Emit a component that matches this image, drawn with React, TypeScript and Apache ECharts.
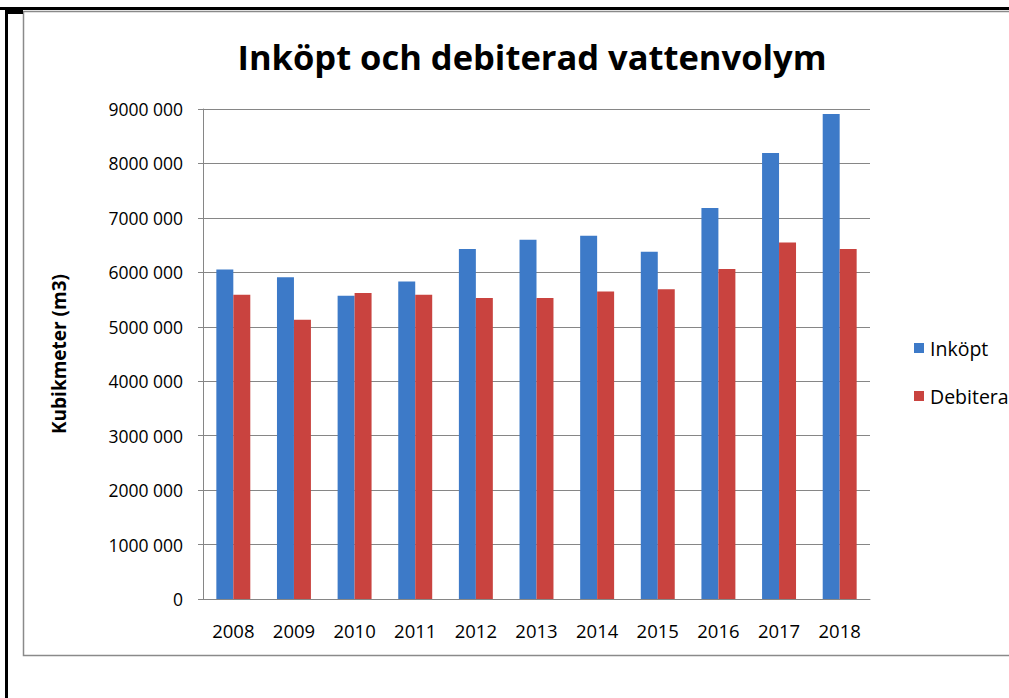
import React, { useEffect, useRef } from "react";
import * as echarts from "echarts";

const years = ["2008", "2009", "2010", "2011", "2012", "2013", "2014", "2015", "2016", "2017", "2018"];
const inkopt = [6050000, 5910000, 5570000, 5830000, 6430000, 6600000, 6670000, 6380000, 7180000, 8190000, 8910000];
const debiterad = [5590000, 5130000, 5620000, 5590000, 5530000, 5530000, 5650000, 5690000, 6060000, 6550000, 6430000];
const seriesNames = ["Inköpt", "Debiterad"];
const titleText = "Inköpt och debiterad vattenvolym";
const yAxisTitle = "Kubikmeter (m3)";

const fmt = (v: number) => (v === 0 ? "0" : `${Math.round(v / 1000000)}000 000`);

export default function App() {
  const ref = useRef<HTMLDivElement>(null);
  useEffect(() => {
    if (!ref.current) return;
    const chart = echarts.init(ref.current, null, { renderer: "svg" });
    const font = "'Open Sans', Lato, sans-serif";
    chart.setOption({
      animation: false,
      backgroundColor: "#ffffff",
      textStyle: { fontFamily: font },
      graphic: [
        { type: "rect", z: -10, shape: { x: 23.5, y: 11.5, width: 1000, height: 644 }, style: { fill: "#ffffff", stroke: "#8a8a8a", lineWidth: 1.5 } },
        { type: "rect", z: 100, shape: { x: 0, y: 7, width: 1009, height: 3 }, style: { fill: "#000000" } },
        { type: "rect", z: 100, shape: { x: 5, y: 7, width: 3, height: 691 }, style: { fill: "#000000" } },
        { type: "rect", z: 100, shape: { x: 5, y: 8, width: 18, height: 6 }, style: { fill: "#000000" } },
        {
          type: "text",
          x: 532,
          y: 56,
          z: 50,
          style: {
            text: titleText,
            fill: "#000000",
            fontFamily: font,
            fontWeight: "bold",
            fontSize: 34.5,
            textAlign: "center",
            textVerticalAlign: "middle",
          },
        },
      ],
      legend: {
        orient: "vertical",
        left: 909,
        top: 331,
        itemWidth: 10,
        itemHeight: 10,
        itemGap: 24,
        icon: "rect",
        data: seriesNames,
        textStyle: { fontSize: 19.5, color: "#000000", fontFamily: font, lineHeight: 24, padding: [0, 0, 0, 1] },
      },
      grid: { left: 203, right: 139, top: 109, bottom: 99, containLabel: false },
      xAxis: {
        type: "category",
        data: years,
        axisLine: { show: true, lineStyle: { color: "#868686", width: 1 } },
        axisTick: { show: false },
        axisLabel: { fontSize: 18.5, color: "#000000", margin: 22, fontFamily: font },
      },
      yAxis: {
        type: "value",
        min: 0,
        max: 9000000,
        interval: 1000000,
        name: yAxisTitle,
        nameLocation: "middle",
        nameGap: 135,
        nameRotate: 90,
        nameTextStyle: { fontSize: 19, fontWeight: "bold", color: "#000000", fontFamily: font },
        axisLine: { show: true, lineStyle: { color: "#868686", width: 1 } },
        axisTick: { show: true, length: 5, lineStyle: { color: "#868686" } },
        splitLine: { show: true, lineStyle: { color: "#868686", width: 1 } },
        axisLabel: { fontSize: 17.5, color: "#000000", margin: 20, formatter: fmt, fontFamily: font },
      },
      series: [
        {
          name: seriesNames[0],
          type: "bar",
          data: inkopt,
          itemStyle: { color: "#3d7ac8" },
          barGap: "0%",
          barCategoryGap: "44%",
        },
        {
          name: seriesNames[1],
          type: "bar",
          data: debiterad,
          itemStyle: { color: "#c9433f" },
          barGap: "0%",
          barCategoryGap: "44%",
        },
      ],
    });
    return () => chart.dispose();
  }, []);
  return (
    <div
      ref={ref}
      style={{ position: "fixed", left: 0, top: 0, width: 1009, height: 698, background: "#ffffff" }}
    />
  );
}
